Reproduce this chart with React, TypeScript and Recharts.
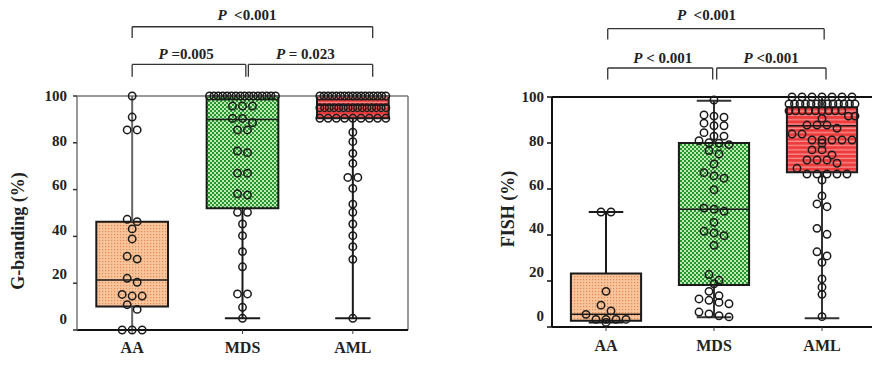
import React from 'react';
import { ComposedChart, XAxis, YAxis, Scatter, ReferenceArea, ReferenceLine, ReferenceDot } from 'recharts';

const categories = ['AA', 'MDS', 'AML'];
const yTicks = [0, 20, 40, 60, 80, 100];

// G-banding (%) individual values
const gbandAA = [100, 91, 85.5, 85.5, 47.3, 46.3, 43.2, 38.9, 31.5, 30.3, 22.1, 20.4, 15.2, 14.5, 14.5, 10.8, 8.8, 0, 0, 0];
const gbandMDS = [100, 100, 100, 100, 100, 100, 100, 100, 100, 100, 100, 100, 100, 100, 100, 100,
  95.7, 95.7, 95.7, 90.4, 90.4, 88.6, 85.5, 85.5, 76.5, 75.8, 67, 67, 58.2, 57.7, 50.3, 50.3,
  45.3, 40.3, 33.5, 27, 15.4, 15.4, 9.7, 5];
const gbandAML = [100, 100, 100, 100, 100, 100, 100, 100, 100, 100, 100, 100, 100, 100, 100, 100, 100,
  95, 95, 95, 95, 95, 95, 95, 95, 95, 95, 95, 95, 95, 95, 95,
  90.5, 90.5, 90.5, 90.5, 90.5, 90.5, 90.5, 90.5, 90.5,
  84.5, 80.5, 75.5, 71.2, 65.2, 65.2, 60.5, 53.8, 50.3, 45.3, 40.3, 35.6, 30.2, 5];
// box stats: [min, q1, median, q3, max]
const gbandBoxAA = [0, 10, 21.4, 46.3, 100];
const gbandBoxMDS = [5, 52, 90, 100, 100];
const gbandBoxAML = [5, 90.5, 96, 100, 100];

// FISH (%) individual values
const fishAA = [50, 50, 15.5, 9.5, 7, 5.5, 3.3, 3.3, 3.3, 3.3, 2];
const fishMDS = [98.7, 92.2, 91.7, 91.2, 88.6, 87.5, 87.5, 84.5, 83, 83, 81, 80.1, 79.9, 79.3, 76.7, 75.2,
  70.9, 67.1, 65.7, 64.7, 59.7, 51.7, 51.2, 50.3, 45.5, 41.6, 40.9, 39.7, 35.5, 22.8, 20.3, 18.8,
  15.5, 13.6, 12.2, 11.6, 10.7, 10.1, 6.5, 5.7, 4.9, 4.4];
const fishAML = [100, 100, 100, 100, 100, 100, 100,
  97, 97, 97, 97, 97, 97, 97, 97, 97, 97, 97, 97, 97,
  94, 94, 94, 94, 94, 94, 94, 94, 94,
  91.7, 91.7, 90.7, 87.8, 87.8, 87.8, 86.4, 83.9, 83.9, 81.3, 81.3, 81.3, 81.3, 81.3, 79.9,
  77, 77, 74.8, 72.6, 72.6, 72.6, 71.2, 69, 66.5, 66.5, 66.5, 66.5, 66.5, 63.9,
  57, 53.5, 52.3, 42.9, 40.3, 32.7, 30.9, 28.1, 20.9, 17.3, 14.2, 4.5];
const fishBoxAA = [2, 2.7, 5.5, 23.3, 50];
const fishBoxMDS = [4.2, 18.3, 51.2, 80, 98.4];
const fishBoxAML = [3.8, 67.3, 87.5, 95.5, 100];

// significance annotations (x in category units, y in % units)
const gbandBrackets = [
  { x1: 0.5, x2: 2.68, y: 129.6, drop: 124.8, text: '  <0.001', tx: 1.54, ty: 134.6 },
  { x1: 0.5, x2: 1.53, y: 113.5, drop: 108.2, text: ' =0.005', tx: 0.99, ty: 118 },
  { x1: 1.553, x2: 2.68, y: 113.5, drop: 108.2, text: ' = 0.023', tx: 2.07, ty: 118 },
];
const fishBrackets = [
  { x1: 0.516, x2: 2.52, y: 129.7, drop: 125, text: '  <0.001', tx: 1.43, ty: 135.5 },
  { x1: 0.516, x2: 1.488, y: 112.6, drop: 107.6, text: ' < 0.001', tx: 1.025, ty: 117.1 },
  { x1: 1.525, x2: 2.537, y: 112.6, drop: 107.6, text: ' <0.001', tx: 2.03, ty: 117.1 },
];

const FONT = "'Liberation Serif', 'Times New Roman', serif";
const BOX_HALF = 0.325;
const CAP_HALF = 0.16;

function swarm(values: number[], center: number, pxX: number, pxY: number) {
  const spacing = 10;
  const maxSpread = 66;
  const thresh = 6;
  const sorted = [...values].sort((a, b) => b - a);
  const out: { x: number; y: number }[] = [];
  let i = 0;
  while (i < sorted.length) {
    const start = sorted[i];
    const group: number[] = [];
    while (i < sorted.length && (start - sorted[i]) * pxY < thresh) {
      group.push(sorted[i]);
      i++;
    }
    const n = group.length;
    const sp = n > 1 ? Math.min(spacing, maxSpread / (n - 1)) : 0;
    group.forEach((v, k) => {
      const off = (k - (n - 1) / 2) * sp;
      out.push({ x: center + off / pxX, y: v });
    });
  }
  return out;
}

const Dot = (p: any) => (
  <circle cx={p.cx} cy={p.cy} r={3.7} fill="none" stroke="#1a1a1a" strokeWidth={1.5} />
);

const makeYTick = (dx: number) => (props: any) => {
  const { x, y, payload } = props;
  const v = payload.value;
  return (
    <text x={x + dx} y={y - (100 - v) * 0.11} textAnchor="end" dominantBaseline="central"
      fontFamily={FONT} fontWeight="bold" fontSize={15} fill="#222">{v}</text>
  );
};

const PLabel = (text: string) => (p: any) => (
  <text x={p.cx} y={p.cy} textAnchor="middle" dominantBaseline="central" fontFamily={FONT}
    fontWeight="bold" fontSize={15} fill="#222" style={{ whiteSpace: 'pre' }}>
    <tspan fontStyle="italic">P</tspan>
    <tspan>{text}</tspan>
  </text>
);

function boxElements(stats: number[], idx: number, fill: string, whiskerColor: string, keyp: string) {
  const c = idx + 0.5;
  const [mn, q1, md, q3, mx] = stats;
  const els = [
    <ReferenceArea key={keyp + 'box'} x1={c - BOX_HALF} x2={c + BOX_HALF} y1={q1} y2={q3}
      fill={fill} fillOpacity={1} stroke="#1a1a1a" strokeWidth={2} ifOverflow="visible" />,
    <ReferenceLine key={keyp + 'med'} segment={[{ x: c - BOX_HALF, y: md }, { x: c + BOX_HALF, y: md }]}
      stroke="#1a1a1a" strokeWidth={1.5} ifOverflow="visible" />,
    <ReferenceLine key={keyp + 'wl'} segment={[{ x: c, y: mn }, { x: c, y: q1 }]}
      stroke={whiskerColor} strokeWidth={2} ifOverflow="visible" />,
    <ReferenceLine key={keyp + 'wh'} segment={[{ x: c, y: q3 }, { x: c, y: mx }]}
      stroke={whiskerColor} strokeWidth={2} ifOverflow="visible" />,
  ];
  if (mn > 0) {
    els.push(<ReferenceLine key={keyp + 'cl'} segment={[{ x: c - CAP_HALF, y: mn }, { x: c + CAP_HALF, y: mn }]}
      stroke={whiskerColor} strokeWidth={2} ifOverflow="visible" />);
  }
  if (mx < 100) {
    els.push(<ReferenceLine key={keyp + 'ch'} segment={[{ x: c - CAP_HALF, y: mx }, { x: c + CAP_HALF, y: mx }]}
      stroke={whiskerColor} strokeWidth={2} ifOverflow="visible" />);
  }
  return els;
}

function bracketElements(list: any[], keyp: string) {
  const out: any[] = [];
  list.forEach((b, i) => {
    out.push(
      <ReferenceLine key={keyp + 'h' + i} segment={[{ x: b.x1, y: b.y }, { x: b.x2, y: b.y }]}
        stroke="#333" strokeWidth={1.3} ifOverflow="visible" />,
      <ReferenceLine key={keyp + 'l' + i} segment={[{ x: b.x1, y: b.y }, { x: b.x1, y: b.drop }]}
        stroke="#333" strokeWidth={1.3} ifOverflow="visible" />,
      <ReferenceLine key={keyp + 'r' + i} segment={[{ x: b.x2, y: b.y }, { x: b.x2, y: b.drop }]}
        stroke="#333" strokeWidth={1.3} ifOverflow="visible" />,
      <ReferenceDot key={keyp + 't' + i} x={b.tx} y={b.ty} r={0} ifOverflow="visible"
        shape={PLabel(b.text)} />,
    );
  });
  return out;
}

const Patterns = ({ p }: { p: string }) => (
  <defs>
    <pattern id={p + 'AA'} width="3" height="3" patternUnits="userSpaceOnUse">
      <rect width="3" height="3" fill="#f8c49c" />
      <rect width="1.2" height="1.2" fill="#e48a50" />
    </pattern>
    <pattern id={p + 'MDS'} width="4" height="4" patternUnits="userSpaceOnUse">
      <rect width="4" height="4" fill="#bfe9b4" />
      <rect width="2" height="2" fill="#24962c" />
      <rect x="2" y="2" width="2" height="2" fill="#24962c" />
    </pattern>
    <pattern id={p + 'AML'} width="4" height="4.3" patternUnits="userSpaceOnUse">
      <rect width="4" height="4.3" fill="#ee3c3c" />
      <rect y="3.1" width="4" height="1" fill="#f8a8a8" />
    </pattern>
  </defs>
);

const xTickFmt = (v: number) => categories[Math.floor(v)] || '';
const xTickStyle = { fontFamily: FONT, fontWeight: 'bold', fontSize: 16, fill: '#222' };

export default function App() {
  const gL = 331 / 3, gY = 234 / 100;
  const fL = 324 / 3, fY = 230 / 100;
  return (
    <div style={{ position: 'absolute', left: 0, top: 0, width: 872, height: 366, overflow: 'hidden', background: '#fff' }}>
      <div style={{ position: 'absolute', left: 0, top: 0 }}>
        <ComposedChart width={436} height={366} margin={{ top: 96, right: 28, bottom: 0, left: 0 }}>
          <Patterns p="g" />
          <XAxis type="number" dataKey="x" domain={[0, 3]} ticks={[0.5, 1.5, 2.5]} tickFormatter={xTickFmt}
            height={36} tick={xTickStyle} tickSize={4} tickMargin={8}
            axisLine={{ stroke: '#111', strokeWidth: 2 }} tickLine={{ stroke: '#444' }} />
          <YAxis type="number" dataKey="y" domain={[0, 100]} ticks={yTicks} width={77}
            tick={makeYTick(0)} tickSize={4} tickMargin={6}
            axisLine={{ stroke: '#777', strokeWidth: 1.5 }} tickLine={{ stroke: '#333', strokeWidth: 1.5 }}
            label={(p: any) => {
              const vb = p.viewBox;
              const cx = vb.x + 18, cy = vb.y + vb.height / 2 + 18;
              return <text transform={`translate(${cx},${cy}) rotate(-90)`} textAnchor="middle" dominantBaseline="central"
                fontFamily={FONT} fontWeight="bold" fontSize={18} fill="#222">G-banding (%)</text>;
            }} />
          <ReferenceLine y={100} stroke="#777" strokeWidth={1.5} />
          <ReferenceLine x={3} stroke="#777" strokeWidth={1.5} />
          {boxElements(gbandBoxAA, 0, 'url(#gAA)', '#666', 'ga')}
          {boxElements(gbandBoxMDS, 1, 'url(#gMDS)', '#1a1a1a', 'gm')}
          {boxElements(gbandBoxAML, 2, 'url(#gAML)', '#1a1a1a', 'gl')}
          {bracketElements(gbandBrackets, 'gb')}
          <Scatter data={swarm(gbandAA, 0.5, gL, gY)} shape={Dot} isAnimationActive={false} />
          <Scatter data={swarm(gbandMDS, 1.5, gL, gY)} shape={Dot} isAnimationActive={false} />
          <Scatter data={swarm(gbandAML, 2.5, gL, gY)} shape={Dot} isAnimationActive={false} />
        </ComposedChart>
      </div>
      <div style={{ position: 'absolute', left: 436, top: 0 }}>
        <ComposedChart width={440} height={366} margin={{ top: 97, right: 0, bottom: 0, left: 0 }}>
          <Patterns p="f" />
          <XAxis type="number" dataKey="x" domain={[0, 3]} ticks={[0.5, 1.5, 2.5]} tickFormatter={xTickFmt}
            height={39} tick={xTickStyle} tickSize={4} tickMargin={9}
            axisLine={{ stroke: '#111', strokeWidth: 2 }} tickLine={{ stroke: '#444' }} />
          <YAxis type="number" dataKey="y" domain={[0, 100]} ticks={yTicks} width={116}
            tick={makeYTick(0)} tickSize={5} tickMargin={3}
            axisLine={{ stroke: '#111', strokeWidth: 2 }} tickLine={{ stroke: '#111', strokeWidth: 1.5 }}
            label={(p: any) => {
              const vb = p.viewBox;
              const cx = vb.x + 72, cy = vb.y + vb.height / 2 - 3;
              return <text transform={`translate(${cx},${cy}) rotate(-90)`} textAnchor="middle" dominantBaseline="central"
                fontFamily={FONT} fontWeight="bold" fontSize={18} fill="#222">FISH (%)</text>;
            }} />
          <ReferenceLine y={100} stroke="#111" strokeWidth={2} />
          {boxElements(fishBoxAA, 0, 'url(#fAA)', '#1a1a1a', 'fa')}
          {boxElements(fishBoxMDS, 1, 'url(#fMDS)', '#333', 'fm')}
          {boxElements(fishBoxAML, 2, 'url(#fAML)', '#333', 'fl')}
          {bracketElements(fishBrackets, 'fb')}
          <Scatter data={swarm(fishAA, 0.5, fL, fY)} shape={Dot} isAnimationActive={false} />
          <Scatter data={swarm(fishMDS, 1.5, fL, fY)} shape={Dot} isAnimationActive={false} />
          <Scatter data={swarm(fishAML, 2.5, fL, fY)} shape={Dot} isAnimationActive={false} />
        </ComposedChart>
      </div>
    </div>
  );
}
